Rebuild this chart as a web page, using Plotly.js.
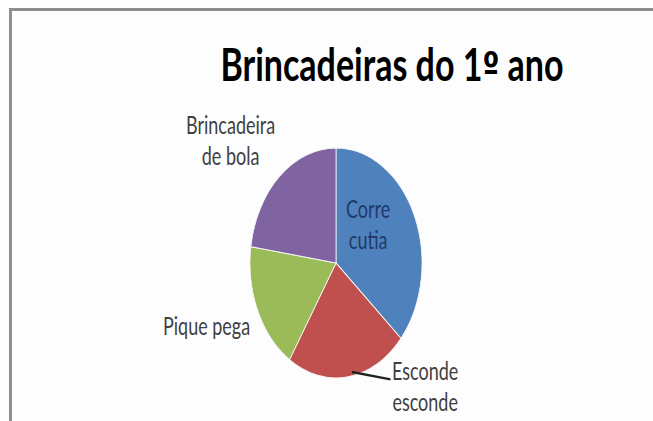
<!DOCTYPE html>
<html>
<head>
<meta charset="utf-8">
<script src="https://cdn.plot.ly/plotly-3.0.1.min.js"></script>
<style>
  html, body { margin: 0; padding: 0; background: #ffffff; overflow: hidden; }
  #frame {
    position: absolute; left: 9px; top: 8px; width: 700px; height: 440px;
    border-left: 3px solid #8e8e8e; border-top: 3px solid #8e8e8e;
    background: #fdfdfd;
  }
  #chart {
    position: absolute; left: 0; top: 0; width: 653px; height: 315px;
    transform-origin: 0 0; transform: scaleY(1.3365);
  }
</style>
</head>
<body>
<div id="frame"></div>
<div id="chart"></div>
<script>
// Data
const categories = ["Corre cutia", "Esconde esconde", "Pique pega", "Brincadeira de bola"];
const values = [8, 5, 4, 5];
const labelText = ["Corre<br>cutia", "Esconde<br>esconde", "Pique pega", "Brincadeira<br>de bola"];
const colors = ["#4F81BD", "#C0504D", "#9BBB59", "#8064A2"];
const titleText = "Brincadeiras do 1<span style=\"font-family:'DejaVu Sans';font-size:30px\">º</span> ano";

const W = 653, H = 315;
const px = x => x / W;
const py = y => 1 - y / H;

const trace = {
  type: "pie",
  labels: categories,
  values: values,
  sort: false,
  direction: "clockwise",
  rotation: 0,
  textinfo: "none",
  hoverinfo: "label+value",
  marker: { colors: colors, line: { color: "#f4f4f4", width: 0.8 } },
  domain: { x: [250 / W, 422 / W], y: [1 - 282.8 / H, 1 - 110.8 / H] },
  showlegend: false
};

const labelFont = { family: "Lato, 'Open Sans', sans-serif", size: 18, color: "#404040" };

const annotations = [
  { text: labelText[0], x: px(368), y: py(167.5), showarrow: false,
    font: Object.assign({}, labelFont, { color: "#1F3A68" }) },
  { text: labelText[1], x: px(352), y: py(278.3), showarrow: true,
    ax: 73, ay: 10.5, arrowhead: 0, arrowwidth: 1.8, arrowcolor: "#222222",
    standoff: 0, font: labelFont },
  { text: labelText[2], x: px(206), y: py(243.5), showarrow: false, font: labelFont },
  { text: labelText[3], x: px(230), y: py(104.5), showarrow: false, font: labelFont }
].map(a => Object.assign({ xref: "paper", yref: "paper", xanchor: "center", yanchor: "middle" }, a));

const layout = {
  width: W, height: H,
  margin: { l: 0, r: 0, t: 0, b: 0 },
  paper_bgcolor: "rgba(0,0,0,0)",
  plot_bgcolor: "rgba(0,0,0,0)",
  title: {
    text: titleText,
    font: { family: "Lato, 'Open Sans', sans-serif", size: 34, color: "#000000", weight: "bold" },
    x: px(392), xanchor: "center", xref: "paper",
    y: 1 - 48.6 / H, yanchor: "middle", yref: "container"
  },
  annotations: annotations
};

Plotly.newPlot("chart", [trace], layout, { staticPlot: true, displayModeBar: false });
</script>
</body>
</html>
